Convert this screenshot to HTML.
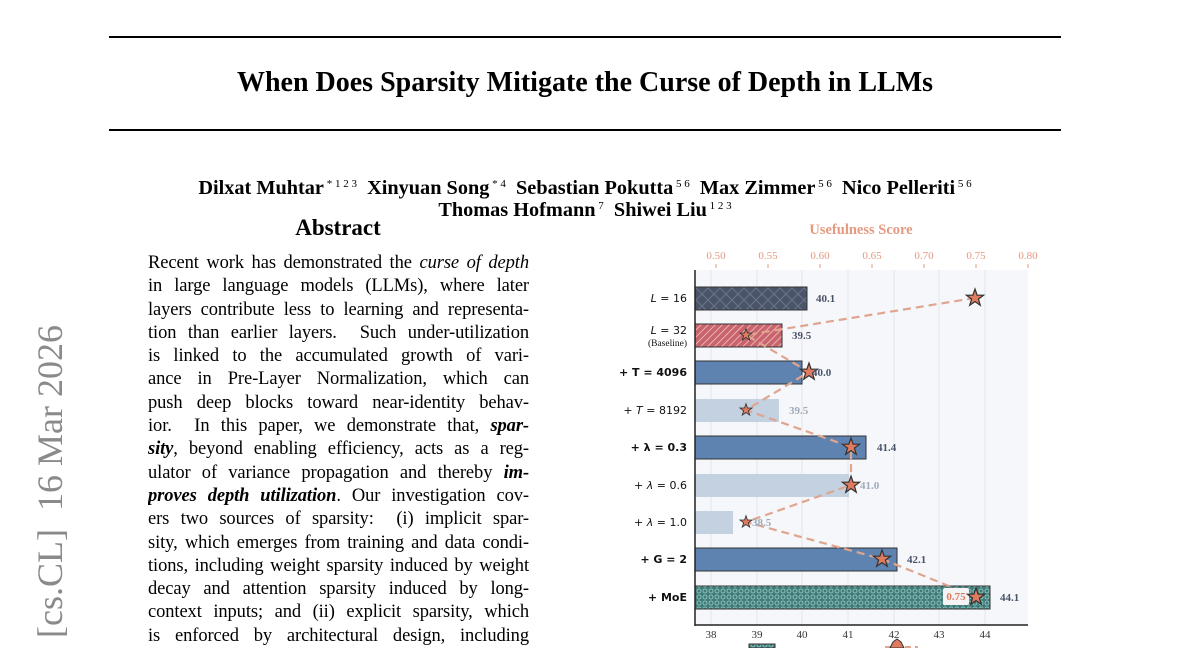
<!DOCTYPE html>
<html><head><meta charset="utf-8"><style>
html,body{margin:0;width:1200px;height:648px;overflow:hidden}
body{background:#fff;position:relative;font-family:"Liberation Serif",serif;color:#000}
.rule{position:absolute;left:109px;width:952px;height:2px;background:#000}
.t{position:absolute;white-space:nowrap}
#abs{position:absolute;left:148px;top:252px;width:381px;height:394px;overflow:hidden;font-size:18.5px;line-height:23.3px}
#abs div{text-align:justify;text-align-last:justify;white-space:nowrap;height:23.3px;letter-spacing:-0.1px}
sup{font-size:11px;font-weight:normal;vertical-align:7px}
</style></head><body>
<div class="rule" style="top:36px"></div>
<div class="rule" style="top:129px"></div>
<div class="t" style="left:0;width:1170px;text-align:center;top:67px;font-size:28px;font-weight:bold">When Does Sparsity Mitigate the Curse of Depth in LLMs</div>
<div class="t" style="left:0;width:1170px;text-align:center;top:173px;font-size:20.3px;font-weight:bold;line-height:23px">Dilxat Muhtar<sup> * 1 2 3</sup> &nbsp;Xinyuan Song<sup> * 4</sup> &nbsp;Sebastian Pokutta<sup> 5 6</sup> &nbsp;Max Zimmer<sup> 5 6</sup> &nbsp;Nico Pelleriti<sup> 5 6</sup></div>
<div class="t" style="left:0;width:1170px;text-align:center;top:195px;font-size:20.3px;font-weight:bold;line-height:23px">Thomas Hofmann<sup> 7</sup> &nbsp;Shiwei Liu<sup> 1 2 3</sup></div>
<div class="t" style="left:238px;width:200px;text-align:center;top:215px;font-size:23px;font-weight:bold">Abstract</div>
<div id="abs">
<div>Recent work has demonstrated the <i>curse of depth</i></div>
<div>in large language models (LLMs), where later</div>
<div>layers contribute less to learning and representa-</div>
<div>tion than earlier layers. &nbsp;Such under-utilization</div>
<div>is linked to the accumulated growth of vari-</div>
<div>ance in Pre-Layer Normalization, which can</div>
<div>push deep blocks toward near-identity behav-</div>
<div>ior. &nbsp;In this paper, we demonstrate that, <b><i>spar-</i></b></div>
<div><b><i>sity</i></b>, beyond enabling efficiency, acts as a reg-</div>
<div>ulator of variance propagation and thereby <b><i>im-</i></b></div>
<div><b><i>proves depth utilization</i></b>. Our investigation cov-</div>
<div>ers two sources of sparsity: &nbsp;(i) implicit spar-</div>
<div>sity, which emerges from training and data condi-</div>
<div>tions, including weight sparsity induced by weight</div>
<div>decay and attention sparsity induced by long-</div>
<div>context inputs; and (ii) explicit sparsity, which</div>
<div>is enforced by architectural design, including</div>
</div>
<svg width="1200" height="648" style="position:absolute;left:0;top:0;overflow:hidden">
<defs>
<pattern id="xh" width="12" height="12" patternUnits="userSpaceOnUse"><rect width="12" height="12" fill="#4a5468"/><path d="M0 0L12 12M12 0L0 12" stroke="#6a7488" stroke-width="1"/></pattern>
<pattern id="dh" width="5" height="5" patternUnits="userSpaceOnUse" patternTransform="rotate(45)"><rect width="5" height="5" fill="#c9646c"/><line x1="0" y1="0" x2="0" y2="5" stroke="#f3c9cb" stroke-width="1.5"/></pattern>
<pattern id="oh" width="6" height="6" patternUnits="userSpaceOnUse"><rect width="6" height="6" fill="#3f7c7a"/><circle cx="3" cy="3" r="2" fill="none" stroke="#9fd0cc" stroke-width="0.8"/></pattern>
<g id="star"><path d="M0,-9 L2.1,-2.9 L8.6,-2.8 L3.4,1.1 L5.3,7.3 L0,3.6 L-5.3,7.3 L-3.4,1.1 L-8.6,-2.8 L-2.1,-2.9Z" fill="#e07b5f" stroke="#333" stroke-width="1.2"/></g>
</defs>
<text transform="translate(62,325) rotate(-90)" text-anchor="end" font-family="Liberation Serif,serif" font-size="36" fill="#8a8a8a">arXiv:2603.15389v1 &#160;[cs.CL] &#160;16 Mar 2026</text>
<rect x="695" y="270" width="333" height="355" fill="#f5f7fa"/>
<g stroke="#e3e6ec" stroke-width="1">
<line x1="711" y1="270" x2="711" y2="625"/><line x1="757" y1="270" x2="757" y2="625"/><line x1="802" y1="270" x2="802" y2="625"/><line x1="848" y1="270" x2="848" y2="625"/><line x1="894" y1="270" x2="894" y2="625"/><line x1="939" y1="270" x2="939" y2="625"/><line x1="985" y1="270" x2="985" y2="625"/>
</g>
<g stroke="#333" stroke-width="1">
<rect x="695" y="287" width="112" height="23" fill="url(#xh)"/>
<rect x="695" y="324" width="87" height="23" fill="url(#dh)"/>
<rect x="695" y="361" width="107" height="23" fill="#5f83b0"/>
<rect x="695" y="399" width="84" height="23" fill="#c3d1e0" stroke="none"/>
<rect x="695" y="436" width="171" height="23" fill="#5f83b0"/>
<rect x="695" y="474" width="154" height="23" fill="#c3d1e0" stroke="none"/>
<rect x="695" y="511" width="38" height="23" fill="#c3d1e0" stroke="none"/>
<rect x="695" y="548" width="202" height="23" fill="#5f83b0"/>
<rect x="695" y="586" width="295" height="23" fill="url(#oh)"/>
</g>
<polyline points="975,298 746,335 809,372 746,410 851,447 851,485 746,522 882,559 976,597" fill="none" stroke="#e0a58f" stroke-width="2.2" stroke-dasharray="8,5"/>
<rect x="943" y="588" width="26" height="17" fill="#f4f4f4" rx="2"/>
<text x="956" y="600" text-anchor="middle" font-size="11" fill="#e07b5f" font-family="Liberation Serif,serif" font-weight="bold">0.75</text>
<use href="#star" x="975" y="298"/>
<g transform="translate(746,335) scale(0.7)"><use href="#star"/></g>
<use href="#star" x="809" y="372"/>
<g transform="translate(746,410) scale(0.7)"><use href="#star"/></g>
<use href="#star" x="851" y="447"/>
<use href="#star" x="851" y="485"/>
<g transform="translate(746,522) scale(0.7)"><use href="#star"/></g>
<use href="#star" x="882" y="559"/>
<use href="#star" x="976" y="597"/>
<g font-family="Liberation Serif,serif" font-size="11" font-weight="bold" fill="#4a5468">
<text x="816" y="302">40.1</text><text x="792" y="339">39.5</text><text x="812" y="376">40.0</text>
<text x="789" y="414" fill="#a0aab8">39.5</text><text x="877" y="451">41.4</text>
<text x="860" y="489" fill="#a0aab8">41.0</text><text x="752" y="526" fill="#a0aab8">38.5</text>
<text x="907" y="563">42.1</text><text x="1000" y="601">44.1</text>
</g>
<line x1="695" y1="270" x2="695" y2="626" stroke="#222" stroke-width="1.5"/>
<line x1="695" y1="625" x2="1028" y2="625" stroke="#222" stroke-width="1.5"/>
<g font-family="Liberation Serif,serif" font-size="11" fill="#333" text-anchor="middle">
<text x="711" y="638">38</text><text x="757" y="638">39</text><text x="802" y="638">40</text><text x="848" y="638">41</text><text x="894" y="638">42</text><text x="939" y="638">43</text><text x="985" y="638">44</text>
</g>
<g font-family="Liberation Serif,serif" font-size="11" fill="#e59a7f" text-anchor="middle">
<text x="716" y="259">0.50</text><text x="768" y="259">0.55</text><text x="820" y="259">0.60</text><text x="872" y="259">0.65</text><text x="924" y="259">0.70</text><text x="976" y="259">0.75</text><text x="1028" y="259">0.80</text>
<text x="861" y="234" font-size="14.5" font-weight="bold">Usefulness Score</text>
</g>
<g stroke="#e59a7f" stroke-width="1"><line x1="716" y1="264" x2="716" y2="268"/><line x1="768" y1="264" x2="768" y2="268"/><line x1="820" y1="264" x2="820" y2="268"/><line x1="872" y1="264" x2="872" y2="268"/><line x1="924" y1="264" x2="924" y2="268"/><line x1="976" y1="264" x2="976" y2="268"/><line x1="1028" y1="264" x2="1028" y2="268"/></g>
<g font-family="DejaVu Sans,sans-serif" font-size="11" fill="#111" text-anchor="end">
<text x="687" y="302"><tspan font-style="italic">L</tspan> = 16</text>
<text x="687" y="334"><tspan font-style="italic">L</tspan> = 32</text>
<text x="687" y="346" font-family="Liberation Serif,serif" font-size="9.5">(Baseline)</text>
<text x="687" y="376" font-weight="bold">+ T = 4096</text>
<text x="687" y="414">+ <tspan font-style="italic">T</tspan> = 8192</text>
<text x="687" y="451" font-weight="bold">+ λ = 0.3</text>
<text x="687" y="489">+ <tspan font-style="italic">λ</tspan> = 0.6</text>
<text x="687" y="526">+ <tspan font-style="italic">λ</tspan> = 1.0</text>
<text x="687" y="563" font-weight="bold">+ G = 2</text>
<text x="687" y="601" font-weight="bold">+ MoE</text>
</g>
<rect x="749" y="644" width="26" height="4" fill="url(#oh)" stroke="#333"/>
<line x1="885" y1="647" x2="918" y2="647" stroke="#e0a58f" stroke-width="2" stroke-dasharray="6,4"/>
<path d="M890,648 L893,642 L897,639 L901,642 L904,648Z" fill="#e07b5f" stroke="#333"/>
</svg>
</body></html>
